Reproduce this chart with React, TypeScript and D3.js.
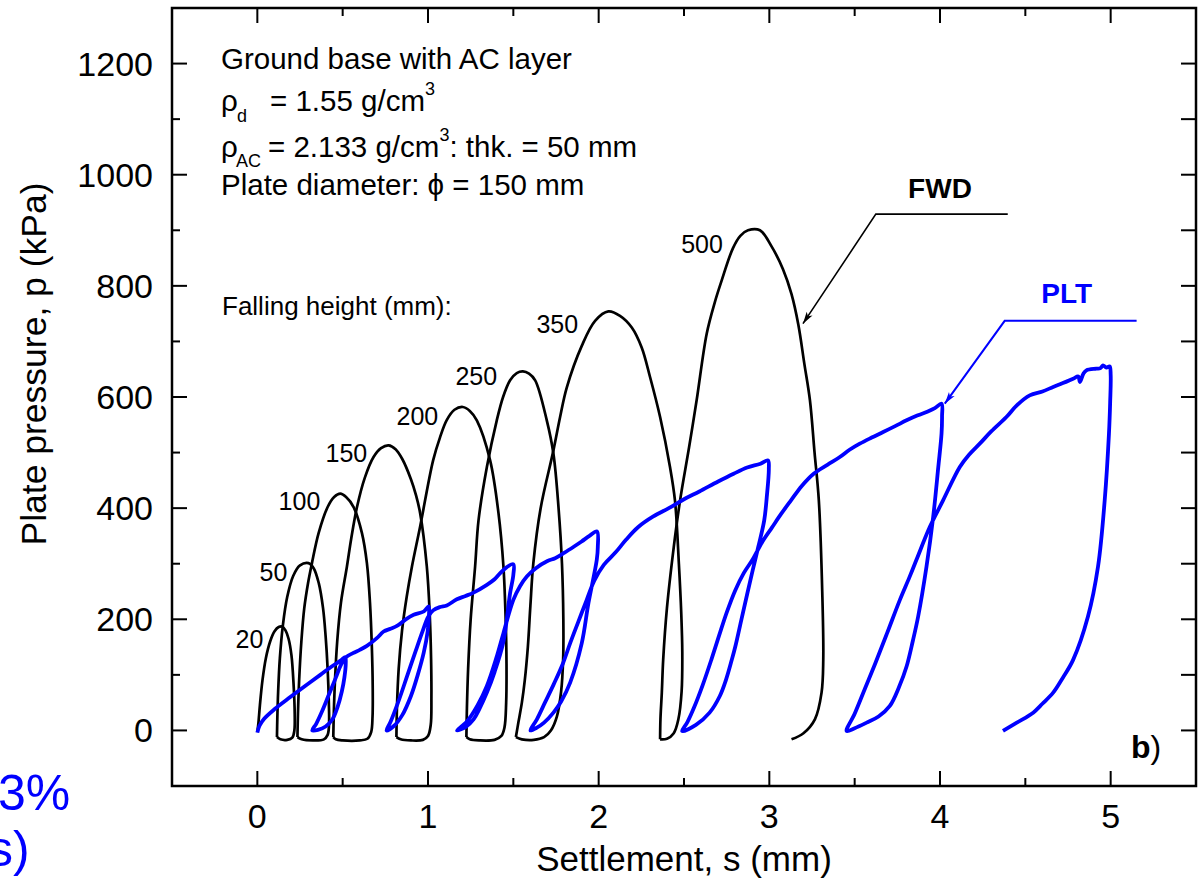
import React from "react";
import * as d3 from "d3";

// axes
const X_DOMAIN = [-0.5, 5.5];
const Y_DOMAIN = [-100, 1300];
const X_TICKS = [0, 1, 2, 3, 4, 5];
const X_MINOR = [0.5, 1.5, 2.5, 3.5, 4.5];
const Y_TICKS = [0, 200, 400, 600, 800, 1000, 1200];
const Y_MINOR = [100, 300, 500, 700, 900, 1100];

// FWD load-settlement loops, one per falling height [s (mm), p (kPa)]
const FWD_20 = [[0,-3],[0.006,12],[0.015,45],[0.03,90],[0.05,130],[0.075,160],[0.1,178],[0.125,186],[0.145,187],[0.165,180],[0.183,165],[0.2,135],[0.212,85],[0.219,30],[0.217,0],[0.205,-13],[0.175,-17],[0.135,-16],[0.115,-12]];
const FWD_50 = [[0.115,-12],[0.117,20],[0.122,70],[0.132,130],[0.15,190],[0.175,240],[0.21,278],[0.25,297],[0.3,301],[0.33,292],[0.36,265],[0.385,220],[0.4,170],[0.412,110],[0.419,50],[0.42,10],[0.412,-8],[0.39,-16],[0.33,-18],[0.26,-16],[0.235,-12]];
const FWD_100 = [[0.235,-12],[0.238,30],[0.245,90],[0.258,160],[0.275,220],[0.297,265],[0.32,301],[0.359,355],[0.412,402],[0.45,420],[0.486,426],[0.52,420],[0.564,402],[0.613,355],[0.642,301],[0.66,230],[0.671,150],[0.676,80],[0.675,25],[0.667,-3],[0.645,-15],[0.6,-18],[0.5,-18],[0.46,-16],[0.445,-12]];
const FWD_150 = [[0.445,-12],[0.448,30],[0.455,90],[0.468,160],[0.49,230],[0.525,295],[0.55,345],[0.584,402],[0.63,455],[0.681,492],[0.725,508],[0.769,513],[0.81,506],[0.85,488],[0.9,452],[0.93,423],[0.954,391],[0.993,295],[1.01,210],[1.018,130],[1.02,60],[1.016,10],[1.0,-10],[0.97,-17],[0.9,-18],[0.84,-16],[0.815,-12]];
const FWD_200 = [[0.815,-12],[0.818,40],[0.828,110],[0.848,180],[0.875,240],[0.906,295],[0.954,367],[1.03,486],[1.07,527],[1.109,558],[1.155,577],[1.204,582],[1.245,575],[1.286,558],[1.364,486],[1.413,391],[1.442,295],[1.455,200],[1.46,120],[1.458,50],[1.448,5],[1.43,-10],[1.39,-17],[1.3,-18],[1.245,-16],[1.225,-12]];
const FWD_250 = [[1.225,-12],[1.228,40],[1.235,110],[1.25,200],[1.276,295],[1.296,378],[1.345,474],[1.403,558],[1.44,600],[1.481,630],[1.52,643],[1.556,646],[1.592,642],[1.628,630],[1.696,558],[1.735,498],[1.765,400],[1.785,300],[1.793,200],[1.792,130],[1.78,70],[1.755,25],[1.72,0],[1.68,-12],[1.62,-17],[1.55,-16],[1.515,-12]];
const FWD_350 = [[1.515,-12],[1.53,15],[1.55,50],[1.567,90],[1.585,150],[1.6,225],[1.617,300],[1.66,400],[1.735,504],[1.774,564],[1.813,617],[1.901,692],[1.979,737],[2.057,754],[2.125,746],[2.194,725],[2.252,689],[2.301,636],[2.36,564],[2.418,474],[2.447,414],[2.47,300],[2.484,210],[2.49,140],[2.486,70],[2.467,20],[2.44,-5],[2.4,-15],[2.36,-16]];
const FWD_500 = [[2.36,-16],[2.362,20],[2.37,68],[2.378,127],[2.4,220],[2.44,330],[2.477,414],[2.53,510],[2.574,594],[2.633,714],[2.68,770],[2.72,809],[2.787,868],[2.83,890],[2.875,900],[2.945,900],[3.013,871],[3.08,830],[3.13,785],[3.17,730],[3.205,660],[3.238,594],[3.265,500],[3.29,414],[3.31,250],[3.316,127],[3.306,68],[3.267,20],[3.2,-5],[3.13,-16]];
const FWD_LOOPS = [FWD_20, FWD_50, FWD_100, FWD_150, FWD_200, FWD_250, FWD_350, FWD_500];

// falling height labels: text, anchor s, anchor p
const HEIGHT_LABELS = [["20",0.035,149],["50",0.176,269],["100",0.369,396],["150",0.644,483],["200",1.06,549],["250",1.405,621],["350",1.88,716],["500",2.728,859]];

// PLT loading / unloading path
const PLT = [
  [0,-4],[0.012,8],[0.04,21],[0.1,38],[0.193,60],[0.28,80],[0.369,100],[0.44,116],[0.49,126],[0.515,132],
  [0.518,120],[0.51,95],[0.495,70],[0.47,42],[0.44,20],[0.4,7],[0.355,1],[0.322,0],
  [0.345,12],[0.38,35],[0.42,65],[0.46,95],[0.49,118],[0.52,132],[0.56,139],[0.6,145],[0.642,152],[0.7,166],[0.74,178],[0.78,183],[0.818,188],[0.87,200],[0.916,208],[0.975,214],[1.004,223],
  [1.005,205],[0.998,178],[0.975,140],[0.94,100],[0.9,62],[0.85,28],[0.8,8],[0.757,0],
  [0.78,15],[0.83,55],[0.88,100],[0.93,145],[0.97,180],[1.0,204],[1.03,216],[1.07,222],[1.11,225],[1.169,236],[1.22,242],[1.267,248],[1.345,262],[1.39,272],[1.423,283],[1.462,294],[1.5,299],
  [1.5,280],[1.481,247],[1.442,160],[1.39,105],[1.345,68],[1.3,38],[1.267,20],[1.22,6],[1.17,0],
  [1.2,8],[1.228,16],[1.29,45],[1.345,80],[1.4,130],[1.442,175],[1.5,235],[1.54,260],[1.579,277],[1.632,292],[1.7,305],[1.745,310],[1.8,320],[1.856,331],[1.9,340],[1.946,350],[1.99,358],
  [1.995,330],[1.989,307],[1.94,229],[1.901,157],[1.833,86],[1.78,52],[1.735,32],[1.68,14],[1.638,5],[1.6,0],
  [1.638,20],[1.685,50],[1.735,82],[1.79,120],[1.833,157],[1.88,195],[1.93,235],[1.975,270],[2.03,298],[2.098,320],[2.16,343],[2.232,366],[2.32,385],[2.411,400],[2.5,416],[2.59,430],[2.7,448],[2.791,462],[2.87,473],[2.948,480],[2.992,486],
  [2.997,470],[2.985,420],[2.97,378],[2.935,330],[2.903,289],[2.87,245],[2.836,199],[2.8,150],[2.78,127],[2.746,91],[2.71,62],[2.65,32],[2.57,10],[2.489,-1],
  [2.52,15],[2.56,42],[2.61,82],[2.66,127],[2.705,170],[2.75,212],[2.8,252],[2.85,283],[2.903,308],[2.96,340],[3.015,365],[3.07,390],[3.127,414],[3.19,440],[3.26,462],[3.34,478],[3.413,492],[3.47,505],[3.53,516],[3.6,527],[3.667,537],[3.74,548],[3.804,558],[3.87,567],[3.921,573],[3.97,580],[4.009,588],
  [4.012,565],[4.009,534],[3.99,474],[3.96,384],[3.921,295],[3.872,205],[3.84,160],[3.804,115],[3.76,78],[3.706,44],[3.64,25],[3.57,14],[3.5,4],[3.453,-1],
  [3.5,30],[3.56,75],[3.62,120],[3.69,175],[3.765,235],[3.82,275],[3.862,307],[3.94,366],[4.018,414],[4.116,474],[4.17,496],[4.233,516],[4.3,538],[4.389,564],[4.45,585],[4.526,603],[4.6,610],[4.663,618],[4.72,625],[4.78,633],[4.81,637],[4.82,627],[4.84,642],[4.858,648],[4.916,651],[4.94,652],[4.955,657],[4.975,653],[4.994,655],
  [5.0,640],[4.997,590],[4.99,534],[4.965,414],[4.926,295],[4.867,205],[4.78,127],[4.72,95],[4.663,68],[4.6,48],[4.546,32],[4.45,14],[4.369,-1],
];

// callouts: label, label s, label p, elbow s, elbow p, line end s, arrow tip s, arrow tip p
const FWD_CALLOUT = ["FWD", 4.0, 958, 3.624, 929, 4.397, 3.197, 732];
const PLT_CALLOUT = ["PLT", 4.742, 770, 4.379, 737, 5.152, 4.028, 588];

const FONT = "'Liberation Sans', Arial, Helvetica, sans-serif";
const BLUE = "#0000ff";

export default function App() {
  const W = 1198, H = 882;
  const left = 172, right = 1196, top = 8, bottom = 786;
  const x = d3.scaleLinear().domain(X_DOMAIN).range([left, right]);
  const y = d3.scaleLinear().domain(Y_DOMAIN).range([bottom, top]);
  const line = d3.line<number[]>()
    .x(d => x(d[0]))
    .y(d => y(d[1]))
    .curve(d3.curveCatmullRom.alpha(0.5));

  const callout = (c: any[], color: string, id: string, w: number) => {
    const [label, ls, lp, es, ep, ends, ts, tp] = c;
    return (
      <g>
        <polyline
          points={`${x(ends)},${y(ep)} ${x(es)},${y(ep)} ${x(ts)},${y(tp)}`}
          fill="none" stroke={color} strokeWidth={w} markerEnd={`url(#${id})`} />
        <text x={x(ls)} y={y(lp)} textAnchor="middle" fontSize={28} fontWeight="bold" fill={color}>{label}</text>
      </g>
    );
  };

  return (
    <svg width={W} height={H} style={{ position: "absolute", left: 0, top: 0, background: "#fff" }} fontFamily={FONT}>
      <defs>
        <marker id="arrK" viewBox="0 0 12 8" refX={12} refY={4} markerWidth={14} markerHeight={8} orient="auto" markerUnits="userSpaceOnUse">
          <path d="M0,0.5 L12,4 L0,7.5 L3,4 z" fill="#000" />
        </marker>
        <marker id="arrB" viewBox="0 0 12 8" refX={12} refY={4} markerWidth={14} markerHeight={8} orient="auto" markerUnits="userSpaceOnUse">
          <path d="M0,0.5 L12,4 L0,7.5 L3,4 z" fill={BLUE} />
        </marker>
      </defs>

      {/* ticks */}
      <g stroke="#000" strokeWidth={2}>
        {X_TICKS.map(v => <line key={"xb" + v} x1={x(v)} x2={x(v)} y1={bottom} y2={bottom - 15} />)}
        {X_MINOR.map(v => <line key={"xbm" + v} x1={x(v)} x2={x(v)} y1={bottom} y2={bottom - 8} />)}
        {X_TICKS.map(v => <line key={"xt" + v} x1={x(v)} x2={x(v)} y1={top} y2={top + 15} />)}
        {X_MINOR.map(v => <line key={"xtm" + v} x1={x(v)} x2={x(v)} y1={top} y2={top + 8} />)}
        {Y_TICKS.map(v => <line key={"yl" + v} x1={left} x2={left + 15} y1={y(v)} y2={y(v)} />)}
        {Y_MINOR.map(v => <line key={"ylm" + v} x1={left} x2={left + 8} y1={y(v)} y2={y(v)} />)}
        {Y_TICKS.concat(Y_MINOR).map(v => <line key={"yr" + v} x1={right} x2={right - 15} y1={y(v)} y2={y(v)} />)}
      </g>

      {/* tick labels */}
      <g fontSize={34} fill="#000">
        {X_TICKS.map(v => <text key={"xl" + v} x={x(v)} y={828} textAnchor="middle">{v}</text>)}
        {Y_TICKS.map(v => <text key={"yl" + v} x={153} y={y(v) + 12} textAnchor="end">{v}</text>)}
      </g>

      {/* axis titles */}
      <text x={x(2.5)} y={871} textAnchor="middle" fontSize={35}>Settlement, s (mm)</text>
      <text transform={`translate(46,364) rotate(-90)`} textAnchor="middle" fontSize={35.5}>Plate pressure, p (kPa)</text>

      {/* FWD loops */}
      <g fill="none" stroke="#000" strokeWidth={2.7} strokeLinejoin="round">
        {FWD_LOOPS.map((d, i) => <path key={"f" + i} d={line(d) || ""} />)}
      </g>
      <g fontSize={25} textAnchor="end">
        {HEIGHT_LABELS.map(([t, s, p]) => <text key={"h" + t} x={x(s as number)} y={y(p as number)}>{t}</text>)}
      </g>

      {/* PLT */}
      <path d={line(PLT) || ""} fill="none" stroke={BLUE} strokeWidth={3.8} strokeLinejoin="round" />

      {callout(FWD_CALLOUT, "#000", "arrK", 1.6)}
      {callout(PLT_CALLOUT, BLUE, "arrB", 2)}

      {/* test description */}
      <g fontSize={29.5} fill="#000">
        <text x={221} y={69}>Ground base with AC layer</text>
        <text x={221} y={111}>ρ<tspan x={237} y={122} fontSize={18}>d</tspan><tspan x={270} y={111}>= 1.55 g/cm</tspan><tspan y={95} fontSize={18}>3</tspan></text>
        <text x={221} y={157}>ρ<tspan x={236} y={167} fontSize={18}>AC</tspan><tspan x={268} y={157}>= 2.133 g/cm</tspan><tspan y={141} fontSize={18}>3</tspan><tspan y={157}>: thk. = 50 mm</tspan></text>
        <text x={221} y={195}>Plate diameter: ϕ = 150 mm</text>
      </g>
      <text x={222} y={315} fontSize={26}>Falling height (mm):</text>

      {/* frame */}
      <rect x={left} y={top} width={right - left} height={bottom - top} fill="none" stroke="#000" strokeWidth={2.5} />

      <text x={1131} y={758} fontSize={32}><tspan fontWeight="bold">b</tspan>)</text>

      {/* leftover slide text */}
      <g fontSize={50} fill={BLUE}>
        <text x={-2} y={810}>3%</text>
        <text x={-12} y={866}>s)</text>
      </g>
    </svg>
  );
}
